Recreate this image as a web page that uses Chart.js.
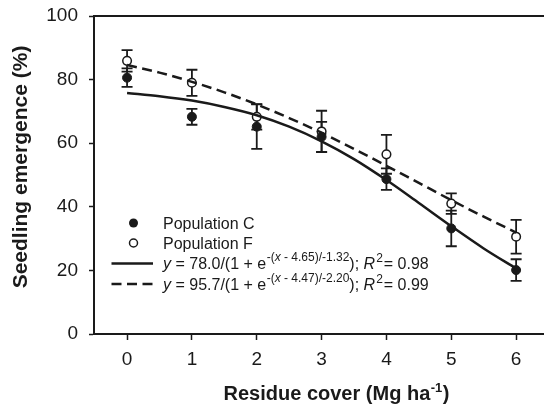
<!DOCTYPE html>
<html>
<head>
<meta charset="utf-8">
<script src="https://cdn.jsdelivr.net/npm/chart.js@4.4.0/dist/chart.umd.min.js"></script>
<style>
  body { margin: 0; background: #fff; }
  canvas { display: block; }
</style>
</head>
<body>
<canvas id="myChart" width="544" height="407"></canvas>
<script>
// residue cover levels (Mg ha-1)
var residue = [0, 1, 2, 3, 4, 5, 6];

// seedling emergence (%) and standard errors
var popC = [80.6, 68.3, 65.2, 62.0, 48.7, 33.2, 20.1];
var popCErr = [2.9, 2.5, 7.0, 4.7, 3.4, 5.6, 3.4];
var popF = [85.9, 79.0, 68.3, 63.7, 56.5, 41.0, 30.6];
var popFErr = [3.4, 4.1, 4.0, 6.5, 6.1, 3.2, 5.3];

// fitted curves, every 0.5 Mg ha-1
var curveX = [0, 0.5, 1, 1.5, 2, 2.5, 3, 3.5, 4, 4.5, 5, 5.5, 6];
var curveC = [75.8, 74.8, 73.4, 71.4, 68.8, 65.2, 60.6, 55.0, 48.4, 41.2, 33.9, 26.9, 20.6];
var curveF = [84.6, 82.2, 79.3, 76.0, 72.2, 67.9, 63.3, 58.2, 52.9, 47.5, 42.1, 36.9, 31.9];

var xTicks = [0, 1, 2, 3, 4, 5, 6];
var yTicks = [0, 20, 40, 60, 80, 100];

var INK = '#1a1a1a';
var FONT = '"Liberation Sans", Arial, Helvetica, sans-serif';

function pts(xs, ys) {
    return xs.map(function (x, i) { return { x: x, y: ys[i] }; });
}

// error bars, drawn under the markers
var errorBars = {
    id: 'errorBars',
    beforeDatasetsDraw: function (chart) {
        var ctx = chart.ctx, xs = chart.scales.x, ys = chart.scales.y;
        ctx.save();
        ctx.strokeStyle = INK;
        ctx.lineWidth = 1.8;
        [[popC, popCErr], [popF, popFErr]].forEach(function (s) {
            residue.forEach(function (r, i) {
                var px = xs.getPixelForValue(r);
                var top = ys.getPixelForValue(s[0][i] + s[1][i]);
                var bot = ys.getPixelForValue(s[0][i] - s[1][i]);
                ctx.beginPath();
                ctx.moveTo(px, top); ctx.lineTo(px, bot);
                ctx.moveTo(px - 5.5, top); ctx.lineTo(px + 5.5, top);
                ctx.moveTo(px - 5.5, bot); ctx.lineTo(px + 5.5, bot);
                ctx.stroke();
            });
        });
        ctx.restore();
    }
};

// frame top line, axis titles and the legend with its equations
function seg(ctx, text, x, y, font) {
    ctx.font = font;
    ctx.fillText(text, x, y);
    return x + ctx.measureText(text).width;
}

var decorations = {
    id: 'decorations',
    afterDraw: function (chart) {
        var ctx = chart.ctx, a = chart.chartArea;
        ctx.save();
        ctx.strokeStyle = INK;
        ctx.lineWidth = 2;
        ctx.beginPath();
        ctx.moveTo(a.left - 1, a.top);
        ctx.lineTo(a.right, a.top);
        ctx.stroke();

        ctx.fillStyle = INK;
        ctx.textBaseline = 'alphabetic';

        // x title
        var big = 'bold 20px ' + FONT, sup = 'bold 13px ' + FONT;
        ctx.font = big;
        var w1 = ctx.measureText('Residue cover (Mg ha').width;
        ctx.font = sup;
        var w2 = ctx.measureText('-1').width;
        ctx.font = big;
        var w3 = ctx.measureText(')').width;
        var x = 336 - (w1 + w2 + w3) / 2, by = 400;
        x = seg(ctx, 'Residue cover (Mg ha', x, by, big);
        x = seg(ctx, '-1', x + 0.5, by - 8, sup);
        seg(ctx, ')', x + 0.5, by, big);

        // y title
        ctx.save();
        ctx.translate(21, 167);
        ctx.rotate(-Math.PI / 2);
        ctx.font = 'bold 21px ' + FONT;
        ctx.textAlign = 'center';
        ctx.textBaseline = 'middle';
        ctx.fillText('Seedling emergence (%)', 0, 0);
        ctx.restore();

        // legend
        var mx = 133.5, tx = 163;
        ctx.beginPath();
        ctx.arc(mx, 223, 4.5, 0, Math.PI * 2);
        ctx.fill();
        ctx.beginPath();
        ctx.arc(mx, 243, 4, 0, Math.PI * 2);
        ctx.fillStyle = '#fff';
        ctx.fill();
        ctx.lineWidth = 1.5;
        ctx.stroke();
        ctx.fillStyle = INK;

        ctx.lineWidth = 2.5;
        ctx.beginPath();
        ctx.moveTo(111.5, 263.5); ctx.lineTo(153, 263.5);
        ctx.stroke();
        ctx.setLineDash([10, 5.5]);
        ctx.beginPath();
        ctx.moveTo(111.5, 284); ctx.lineTo(153, 284);
        ctx.stroke();
        ctx.setLineDash([]);

        var f = '16px ' + FONT, fi = 'italic 16px ' + FONT;
        var s = '12px ' + FONT, si = 'italic 12px ' + FONT;
        seg(ctx, 'Population C', tx, 229, f);
        seg(ctx, 'Population F', tx, 249, f);

        function equation(y, a0, mid, k, r2) {
            var x = seg(ctx, 'y', tx, y, fi);
            x = seg(ctx, ' = ' + a0 + '/(1 + e', x, y, f);
            x = seg(ctx, '-(', x + 0.5, y - 8, s);
            x = seg(ctx, 'x', x, y - 8, si);
            x = seg(ctx, ' - ' + mid + ')/' + k, x, y - 8, s);
            x = seg(ctx, '); ', x, y, f);
            x = seg(ctx, 'R', x, y, fi);
            x = seg(ctx, '2', x + 1, y - 7, s);
            seg(ctx, '= ' + r2, x + 1, y, f);
        }
        equation(269, '78.0', '4.65', '-1.32', '0.98');
        equation(290, '95.7', '4.47', '-2.20', '0.99');
        ctx.restore();
    }
};

var ctx = document.getElementById('myChart').getContext('2d');
var myChart = new Chart(ctx, {
    type: 'scatter',
    data: {
        datasets: [{
            label: 'Fit C',
            type: 'line',
            data: pts(curveX, curveC),
            borderColor: INK,
            borderWidth: 2.5,
            pointRadius: 0,
            cubicInterpolationMode: 'monotone',
            fill: false
        },
        {
            label: 'Fit F',
            type: 'line',
            data: pts(curveX, curveF),
            borderColor: INK,
            borderWidth: 2.5,
            borderDash: [10, 5.5],
            pointRadius: 0,
            cubicInterpolationMode: 'monotone',
            fill: false
        },
        {
            label: 'Population C',
            data: pts(residue, popC),
            backgroundColor: INK,
            borderColor: INK,
            borderWidth: 1,
            pointRadius: 4.5
        },
        {
            label: 'Population F',
            data: pts(residue, popF),
            backgroundColor: '#fff',
            borderColor: INK,
            borderWidth: 1.5,
            pointRadius: 4.3
        }]
    },
    plugins: [errorBars, decorations],
    options: {
        responsive: false,
        animation: false,
        devicePixelRatio: 1,
        events: [],
        layout: { autoPadding: false, padding: { top: 16, right: 0, left: 0, bottom: 0 } },
        plugins: {
            legend: { display: false },
            tooltip: { enabled: false }
        },
        scales: {
            x: {
                type: 'linear',
                min: -0.51,
                max: 6.43,
                afterBuildTicks: function (scale) {
                    scale.ticks = xTicks.map(function (v) { return { value: v }; });
                },
                afterFit: function (scale) {
                    scale.height = 73;
                    scale.paddingLeft = 0;
                    scale.paddingRight = 0;
                },
                grid: { drawOnChartArea: false, drawTicks: true, tickLength: 6, color: INK, tickWidth: 1.5 },
                border: { color: INK, width: 2 },
                ticks: { color: INK, padding: 8, font: { family: FONT, size: 19 } }
            },
            y: {
                min: 0,
                max: 100,
                afterBuildTicks: function (scale) {
                    scale.ticks = yTicks.map(function (v) { return { value: v }; });
                },
                afterFit: function (scale) {
                    scale.width = 94;
                    scale.paddingTop = 0;
                    scale.paddingBottom = 0;
                },
                grid: { drawOnChartArea: false, drawTicks: true, tickLength: 5, color: INK, tickWidth: 1.5 },
                border: { color: INK, width: 2 },
                ticks: { color: INK, padding: 11, font: { family: FONT, size: 19 } }
            }
        }
    }
});
</script>
</body>
</html>
